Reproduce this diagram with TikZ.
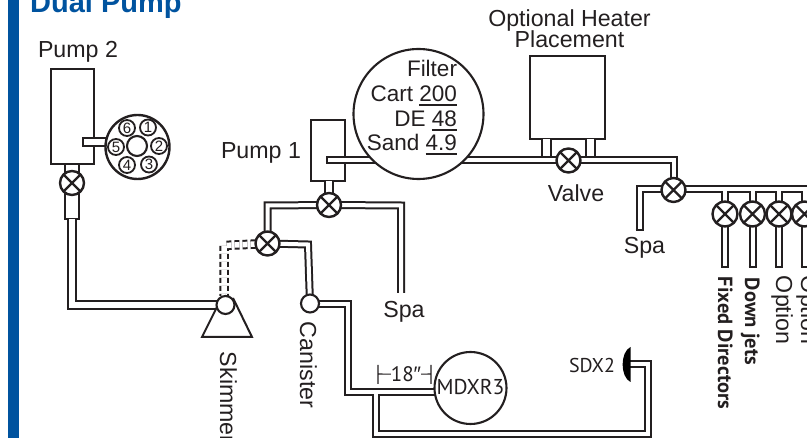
\documentclass[tikz,border=0pt]{standalone}
\usepackage{fontspec}
\setmainfont{Liberation Sans}
\newfontfamily\myr{PT Sans}
\pgfdeclarelayer{boxes}
\pgfdeclarelayer{pipes}
\pgfsetlayers{boxes,pipes,main}
\newcommand\ulbox[1]{\setbox0\hbox{#1}\rlap{\vrule width\wd0 height -2.4pt depth 4.4pt}\box0}
\definecolor{ink}{HTML}{231F20}
\definecolor{brand}{HTML}{00539F}
\tikzset{
  lbl/.style={inner sep=0,outer sep=0,text=ink,font=\fontsize{23.2}{24}\selectfont},
  flbl/.style={inner sep=0,outer sep=0,text=ink,font=\fontsize{22.5}{24}\selectfont},
  mlbl/.style={inner sep=0,outer sep=0,text=ink,font=\myr\fontsize{20}{24}\selectfont},
  blbl/.style={inner sep=0,outer sep=0,text=ink,font=\myr\bfseries\fontsize{20.5}{20}\selectfont},
  box/.style={draw=ink,line width=2.1,fill=white,inner sep=0,outer sep=0,rectangle},
  ring/.style={draw=ink,line width=2.1,fill=white,inner sep=0,outer sep=0,circle},
  pipe/.style={draw=ink,line width=2,double=white,double distance=4,line join=miter},
  widepipe/.style={pipe,double distance=6},
  thinline/.style={draw=ink,line width=2},
  valve/.style={ring,line width=2.4,minimum size=24,path picture={
    \draw[ink,line width=2.4] (path picture bounding box.north west)--(path picture bounding box.south east)
      (path picture bounding box.north east)--(path picture bounding box.south west);}},
  num/.style={ring,minimum size=16,line width=1.8,text=ink,font=\fontsize{15}{15}\selectfont},
}
\begin{document}
\begin{tikzpicture}[x=1pt,y=-1pt]
\useasboundingbox (0,0) rectangle (807,438);
\fill[brand] (8,0) rectangle (19,438);
\node[anchor=base west,inner sep=0,text=brand,font=\bfseries\fontsize{29}{30}\selectfont] (title) at (30,13) {Dual Pump};

% ---------- labels
\node[lbl,anchor=base west] (lp2) at (38,58) {Pump 2};
\node[lbl,anchor=base west] (lp1) at (221,159) {Pump 1};
\node[lbl,anchor=base] (lh1) at (569.5,27) {Optional Heater};
\node[lbl,anchor=base] (lh2) at (569.5,48) {Placement};
\node[lbl,anchor=base] (lv) at (576,201.5) {Valve};
\node[lbl,anchor=base] (ls1) at (404,318) {Spa};
\node[lbl,anchor=base] (ls2) at (644.5,253.5) {Spa};
\node[lbl,anchor=base west,rotate=-90] (lsk) at (220,352) {Skimmer};
\node[lbl,anchor=base west,rotate=-90] (lca) at (300,322) {Canister};
\node[lbl,anchor=base west,rotate=-90] (lo1) at (776,276) {Option};
\node[lbl,anchor=base west,rotate=-90] (lo2) at (801,276) {Option};
\node[blbl,anchor=base west,rotate=-90] (lfd) at (718,277) {Fixed Directors};
\node[blbl,anchor=base west,rotate=-90] (ldj) at (745,278) {Down jets};
\node[mlbl,anchor=base west] (lsdx) at (569,372.5) {SDX2};

% ---------- equipment boxes
\begin{pgfonlayer}{boxes}
\node[box,minimum width=43,minimum height=95,anchor=north west] (p2) at (51,69) {};
\node[box,minimum width=34,minimum height=61,anchor=north west] (p1) at (311,120) {};
\node[box,minimum width=75,minimum height=83,anchor=north west] (heater) at (530,56) {};
\end{pgfonlayer}

% ---------- fittings
\node[box,minimum width=24,minimum height=8,anchor=north west] (stub2) at (83,138) {};
\node[ring,line width=2.4,minimum size=64] (dist) at (137.5,147) {};
\node[ring,minimum size=20] (hub) at (137,146) {};
\node[num] (n1) at (148,127.5) {1};
\node[num] (n2) at (159,146) {2};
\node[num] (n3) at (149,164.5) {3};
\node[num] (n4) at (127,165) {4};
\node[num] (n5) at (116,147) {5};
\node[num] (n6) at (127,128) {6};

\node[valve] (v2) at (72,183) {};
\node[valve] (v1) at (329,205) {};
\node[valve] (v3) at (267.5,243.5) {};
\node[valve] (vh) at (568.5,160.5) {};
\node[valve] (v4) at (673.5,190) {};
\node[valve,minimum size=25] (b1) at (725,214) {};
\node[valve,minimum size=25] (b2) at (752.5,214) {};
\node[valve,minimum size=25] (b3) at (779,214) {};
\node[valve,minimum size=25] (b4) at (804.5,214) {};

\node[ring,minimum size=130] (filter) at (418.5,114) {};
\node[flbl,anchor=base east] (f1) at (457,77) {Filter};
\node[flbl,anchor=base east] (f2) at (457,102) {Cart \ulbox{200}};
\node[flbl,anchor=base east] (f3) at (457,127) {DE \ulbox{48}};
\node[flbl,anchor=base east] (f4) at (457,151) {Sand \ulbox{4.9}};

\node[ring,minimum size=72] (mdx) at (470.5,388) {};
\node[mlbl,anchor=base,font=\myr\fontsize{21.5}{24}\selectfont] (mdxt) at (470.5,395) {MDXR3};

\node[ring,minimum size=18] (can) at (310,303.5) {};
\draw[thinline,fill=white] (217,307) -- (202,337) -- (252,337) -- (233,298);
\node[ring,minimum size=18] (skim) at (225.5,305) {};

% SDX2 return fitting
\coordinate (sdxport) at (630,364.5);
\fill[black] (630.5,347) .. controls (620,352) and (620,377) .. (630.5,382) -- cycle;

% 18 inch dimension
\node[mlbl,anchor=base,font=\myr\fontsize{21}{24}\selectfont] (d18) at (406,381.5) {18{\rmfamily″}};
\coordinate (dl) at (378,374);
\coordinate (dr) at (431,374);
\draw[thinline,line width=1.1] (378,365) -- (378,384) (431,365) -- (431,384)
  (dl) -- (d18.west) (d18.east) -- (dr);

% ---------- pipe corner points
\coordinate (c1) at (72,305);
\coordinate (c2) at (268.5,205.5);
\coordinate (c3) at (401,205.5);
\coordinate (c3e) at (401,293);
\coordinate (c4) at (308,244.5);
\coordinate (c5) at (348,304.5);
\coordinate (c6) at (348,392);
\coordinate (c7) at (376,392);
\coordinate (c8) at (376,434);
\coordinate (c9) at (648,434);
\coordinate (c10) at (648,364.5);
\coordinate (c11) at (224,245.5);
\coordinate (mainL) at (326.5,160.5);
\coordinate (mainR) at (673.5,160.5);
\coordinate (sp1) at (639.5,189);
\coordinate (sp2) at (639.5,230);
\coordinate (rowR) at (815,189);
\coordinate (rowEnd) at (0,267);
\coordinate (legEnd) at (0,158);
\coordinate (hl1) at (546.7,139);
\coordinate (hl2) at (590.5,139);

\begin{pgfonlayer}{pipes}
% sleeve under pump 2
\node[box,minimum width=14,minimum height=55,anchor=north] (sleeve) at (72,164) {};
\draw[widepipe] (sleeve.south) -- (c1) -- (skim);
% pump 1 to valve and suction lines
\draw[pipe,double distance=5.5] (p1.south -| v1) -- (v1);
\draw[pipe] (v3) -- (v3 |- c2) -- (c2) -- (v1) -- (c3) -- (c3e);
\draw[pipe] (v3) -- (c4) -- (can);
\draw[pipe,double distance=5.5,dash pattern=on 5pt off 3pt] (v3) -- (c11) -- (c11 |- skim.north);
% canister loop
\draw[pipe] (can) -- (can |- c5) -- (c5) -- (c6) -- (mdx.west |- c6)
   (c7) -- (c8) -- (c9) -- (c10) -- (sdxport);
% heater legs
\draw[pipe,double distance=6.5] (hl1) -- (hl1 |- legEnd);
\draw[pipe,double distance=6.5] (hl2) -- (hl2 |- legEnd);
% main line, drawn over pump 1
\draw[pipe] (mainL) -- (mainR) -- (v4);
\draw[thinline] (326.5,156.5) -- (326.5,164.5);
% return row
\draw[pipe] (sp2) -- (sp1) -- (v4 |- sp1) -- (rowR)
  (b1 |- sp1) -- (b1 |- rowEnd)
  (b2 |- sp1) -- (b2 |- rowEnd)
  (b3 |- sp1) -- (b3 |- rowEnd)
  (b4 |- sp1) -- (b4 |- rowEnd);
\draw[thinline] (635.5,230.5) -- (643.5,230.5);
\foreach \b in {b1,b2,b3,b4}{
  \draw[thinline] (\b |- rowEnd) ++(-4,0.5) -- ++(8,0);
}
\end{pgfonlayer}
\end{tikzpicture}
\end{document}
